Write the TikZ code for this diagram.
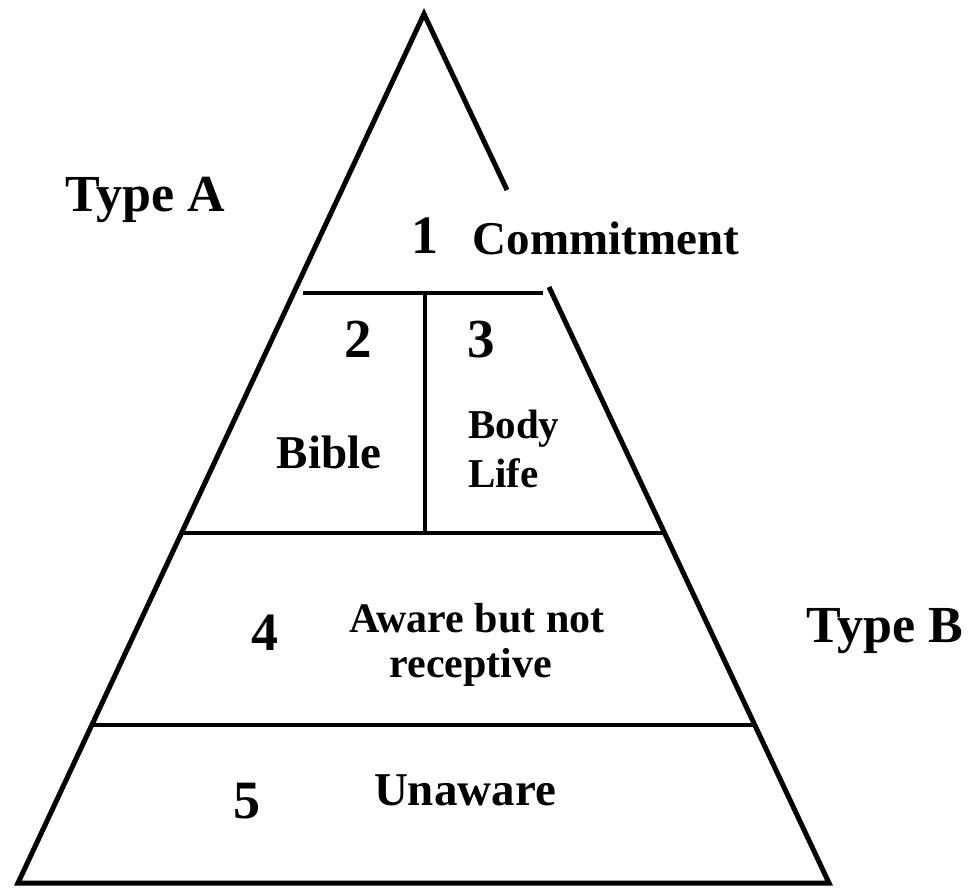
\documentclass[tikz,border=0pt]{standalone}
\usepackage{fontspec}
\setmainfont{Liberation Serif}
\begin{document}
\begin{tikzpicture}[x=1pt,y=-1pt,
  edge/.style={line width=5pt, line join=miter, line cap=butt},
  divline/.style={line width=3.8pt},
  txt/.style={inner sep=0pt, anchor=base, font=\bfseries\fontsize{#1}{#1}\selectfont},
  txtw/.style={inner sep=0pt, anchor=base west, font=\bfseries\fontsize{#1}{#1}\selectfont}]
\useasboundingbox (0,0) rectangle (974,888);
% outline
\coordinate (apex) at (424,14);
\coordinate (bl) at (18,883);
\coordinate (br) at (829,883);
\coordinate (gapT) at (507,190);
\coordinate (gapB) at (549,287);
\draw[edge] (gapT) -- (apex) -- (bl) -- (br) -- (gapB);
% dividers
\coordinate (d1l) at (303,293); \coordinate (d1r) at (543,293);
\coordinate (d2l) at (182,533); \coordinate (d2r) at (664,533);
\coordinate (d3l) at (92,725);  \coordinate (d3r) at (755,725);
\coordinate (vt) at (425,293);  \coordinate (vb) at (425,533);
\draw[divline] (d1l) -- (d1r);
\draw[divline] (d2l) -- (d2r);
\draw[divline] (d3l) -- (d3r);
\draw[divline] (vt) -- (vb);
% labels
\node[txt=52] (typeA) at (145,211) {Type A};
\node[txt=52] (typeB) at (885,642) {Type B};
\node[txt=54] (n1) at (425,253) {1};
\node[txt=47] (commit) at (606,254) {Commitment};
\node[txt=55] (n2) at (358,357) {2};
\node[txt=55] (n3) at (481,357) {3};
\node[txt=47] (bible) at (329,468) {Bible};
\node[txtw=41] (body) at (468,438) {Body};
\node[txtw=41] (life) at (468,487) {Life};
\node[txt=54] (n4) at (265,650) {4};
\node[txt=42] (aware) at (477,632) {Aware but not};
\node[txt=42] (recep) at (471,677) {receptive};
\node[txt=54] (n5) at (247,818) {5};
\node[txt=47] (unaware) at (465,805) {Unaware};
\end{tikzpicture}
\end{document}
